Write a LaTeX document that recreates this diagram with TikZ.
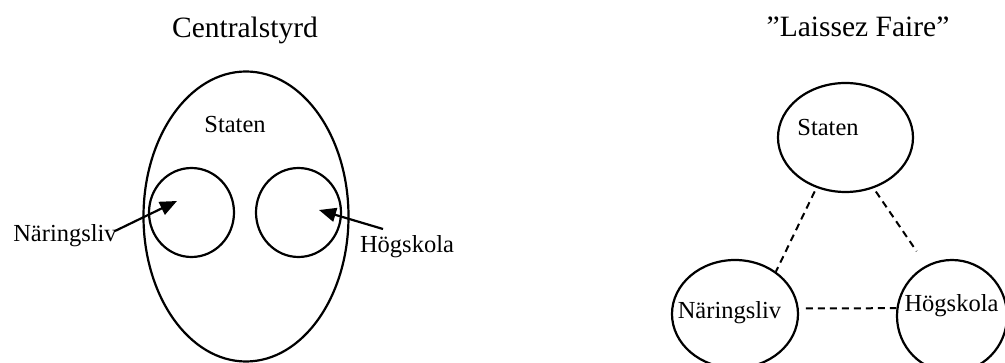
\documentclass[tikz,border=0pt]{standalone}
\usepackage{fontspec}
\setmainfont{Liberation Serif}
\usetikzlibrary{shapes.geometric,arrows.meta}
\begin{document}
\begin{tikzpicture}[x=1pt,y=-1pt,
  lbl/.style={inner sep=0pt,anchor=base,font=\fontsize{24.5}{29}\selectfont},
  ttl/.style={inner sep=0pt,anchor=base,font=\fontsize{29.5}{35}\selectfont},
  ring/.style={ellipse,draw,line width=2.2pt,inner sep=0pt},
  arr/.style={line width=2.2pt,-{Triangle[length=17pt,width=14pt]}},
  dsh/.style={line width=2pt,dash pattern=on 7pt off 5pt}]
\useasboundingbox (0,0) rectangle (1005,363);
\clip (0,0) rectangle (1005,363);
% left diagram
\node[ttl] (t1) at (245,37.5) {Centralstyrd};
\node[ring,minimum width=205pt,minimum height=290pt] (big) at (246,216.5) {};
\node[lbl] (stL) at (235,133) {Staten};
\node[ring,minimum width=85pt,minimum height=89pt] (c1) at (191.5,212.5) {};
\node[ring,minimum width=85pt,minimum height=89pt] (c2) at (298.5,212.5) {};
\node[lbl] (nlL) at (65,242) {Näringsliv};
\node[lbl] (hsL) at (407,252.3) {Högskola};
\coordinate (aS) at (115,231);
\coordinate (aT) at (177,201);
\coordinate (bS) at (383,229);
\coordinate (bT) at (319,210);
\draw[arr] (aS) -- (aT);
\draw[arr] (bS) -- (bT);
% right diagram
\node[ttl] (t2) at (858,37) {”Laissez Faire”};
\node[ring,minimum width=135pt,minimum height=109pt] (st) at (845.5,137.5) {};
\node[lbl] at (828,136) {Staten};
\node[ring,minimum width=126pt,minimum height=108pt] (nl) at (735,314) {};
\node[lbl] at (729.5,319) {Näringsliv};
\node[ring,minimum width=110pt,minimum height=112pt] (hs) at (952,316) {};
\node[lbl] at (951.5,312) {Högskola};
\draw[dsh,shorten <=4pt] (st.240) -- (nl.46);
\draw[dsh,shorten <=4pt,shorten >=17pt] (st.299) -- (hs.117);
\draw[dsh,shorten <=7pt] (nl.5) -- (hs.172);
\end{tikzpicture}
\end{document}
